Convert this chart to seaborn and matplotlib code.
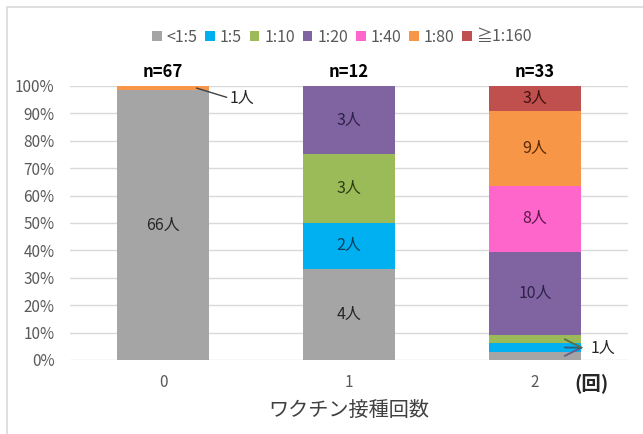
import numpy as np
import pandas as pd
import matplotlib
matplotlib.use("Agg")
import matplotlib.pyplot as plt
from matplotlib.patches import Patch, Rectangle
import seaborn as sns

# Antibody titer distribution by number of vaccine doses
doses = [0, 1, 2]
titers = ["<1:5", "1:5", "1:10", "1:20", "1:40", "1:80", "≧1:160"]
counts_0 = [66, 0, 0, 0, 0, 1, 0]
counts_1 = [4, 2, 3, 3, 0, 0, 0]
counts_2 = [1, 1, 1, 10, 8, 9, 3]
colors = ["#A5A5A5", "#00B0F0", "#9BBB59", "#8064A2", "#FF66CC", "#F79646", "#C0504D"]
text_colors = ["#262626", "#0B3F5C", "#2F3D14", "#2E2148", "#5A1A48", "#5A2A06", "#3D1211"]
y_ticks = [0, 10, 20, 30, 40, 50, 60, 70, 80, 90, 100]

sns.set_theme(style="white")
plt.rcParams["font.family"] = ["Noto Sans CJK JP", "DejaVu Sans"]

rows = []
for d, cnts in zip(doses, [counts_0, counts_1, counts_2]):
    for t, c in zip(titers, cnts):
        rows.append({"dose": d, "titer": t, "count": c})
df = pd.DataFrame(rows)

fig = plt.figure(figsize=(6.43, 4.34), dpi=100)
W, H = 643, 434
ax = fig.add_axes([70 / W, 1 - 360 / H, (628 - 70) / W, (360 - 86) / H])

# seaborn stacks the last hue level at the bottom, so pass the order reversed
sns.histplot(data=df, x="dose", weights="count", hue="titer",
             hue_order=titers[::-1], palette=dict(zip(titers, colors)),
             multiple="fill", discrete=True, shrink=0.49, alpha=1,
             linewidth=0, edgecolor="none", legend=False, ax=ax, zorder=3)

ax.set_xlim(-0.5, 2.5)
ax.set_ylim(0, 1)
ax.set_yticks([v / 100 for v in y_ticks])
ax.set_yticklabels([f"{v}%" for v in y_ticks])
ax.set_xticks(doses)
ax.set_xticklabels([str(d) for d in doses])
ax.tick_params(axis="both", colors="#595959", labelsize=11, length=0)
ax.tick_params(axis="y", pad=11)
ax.tick_params(axis="x", pad=10)
ax.grid(axis="y", color="#D9D9D9", linewidth=1, zorder=0)
ax.set_axisbelow(True)
for s in ax.spines.values():
    s.set_visible(False)
ax.set_xlabel("")
ax.set_ylabel("")

# segment labels
for d, cnts in zip(doses, [counts_0, counts_1, counts_2]):
    n = sum(cnts)
    base = 0
    for i, c in enumerate(cnts):
        frac = c / n
        if c >= 2:
            ax.text(d, base + frac / 2, f"{c}人", ha="center", va="center",
                    fontsize=11.5, color=text_colors[i], zorder=5)
        base += frac
    ax.text(d, 1.052, f"n={n}", ha="center", va="center", fontsize=12,
            fontweight="bold", color="#000000", clip_on=False)

# callout for the single case in dose 0
top0 = 1 - counts_0[5] / sum(counts_0) / 2
ax.annotate("1人", xy=(0.18, top0), xytext=(0.36, 0.955),
            fontsize=11.5, color="#262626", va="center", ha="left",
            arrowprops=dict(arrowstyle="-", color="#404040", lw=1,
                            shrinkA=0, shrinkB=0,
                            relpos=(0, 0.5)), annotation_clip=False)

# callouts for the three single cases in dose 2
n2 = sum(counts_2)
base = 0
mids = []
for c in counts_2[:3]:
    mids.append(base + c / n2 / 2)
    base += c / n2
line_cols = ["#6A5A8A", "#2E5F7A", "#5E6E40"]
for m, lc in zip(mids, line_cols):
    ax.annotate("", xy=(2.16, m), xytext=(2.25, 0.045),
                arrowprops=dict(arrowstyle="-", color=lc, lw=1.3,
                                shrinkA=0, shrinkB=0), annotation_clip=False)
ax.text(2.3, 0.043, "1人", fontsize=11.5, color="#262626", va="center",
        ha="left", clip_on=False)

# legend
handles = [Patch(facecolor=c, edgecolor="none") for c in colors]
fig.legend(handles, titers, loc="center", bbox_to_anchor=(342 / W, 1 - 37 / H),
           ncol=7, frameon=False, fontsize=11.5, handlelength=0.6,
           handleheight=0.6, handletextpad=0.3, columnspacing=0.5,
           labelcolor="#595959")

fig.text(349 / W, 1 - 410 / H, "ワクチン接種回数", ha="center", va="center",
         fontsize=14.5, color="#404040")
fig.text(591 / W, 1 - 383 / H, "(回)", ha="center", va="center",
         fontsize=14, fontweight="bold", color="#262626")

# chart frame
fig.patches.append(Rectangle((7 / W, -0.1), 1.2, 1 - 7 / H + 0.1,
                             transform=fig.transFigure, fill=False,
                             edgecolor="#D9D9D9", linewidth=1.2))

fig.savefig("out.png", dpi=100)
